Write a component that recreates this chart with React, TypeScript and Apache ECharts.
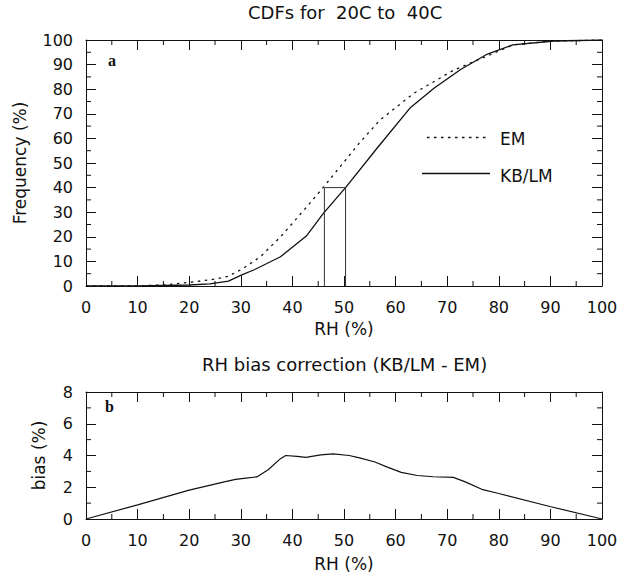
import React, { useEffect, useRef } from "react";
import * as echarts from "echarts";

// RH (%) and cumulative frequency (%) pairs
const emRH = [0, 10, 15, 20.2, 25, 27.6, 30.2, 33.8, 37.7, 42.8, 46.1, 50.3, 53.2, 57, 63.5, 71.3, 77.8, 82.7, 90, 100];
const emFreq = [0, 0.1, 0.4, 1.5, 2.8, 4, 6.8, 11.9, 20, 32.2, 40.4, 51.2, 58.7, 67.5, 78.3, 87.8, 93.5, 98, 99.5, 100];

const kbRH = [0, 10, 20, 24, 27.6, 30.2, 32.5, 37.7, 42.7, 46, 50.3, 56.4, 62.9, 67.5, 72.6, 77.8, 82.7, 90.7, 100];
const kbFreq = [0, 0, 0.4, 0.9, 2.0, 4.5, 6.5, 11.9, 20.3, 29.5, 40, 56, 72.6, 80.5, 88, 94.3, 98, 99.6, 100];

// mapping box at frequency 40 (EM RH -> KB/LM RH)
const boxRH = [46.2, 46.2, 50.3, 50.3];
const boxFreq = [0, 40, 40, 0];

// bias correction (KB/LM - EM)
const biasRH = [0, 10, 20, 27, 29, 31, 33.1, 35.3, 37.7, 38.7, 40.9, 42.6, 45.5, 47.9, 51, 53, 56, 58.4, 61.1, 64.2, 67.3, 71.2, 73.5, 76.7, 79.8, 89.9, 100];
const biasVal = [0, 0.89, 1.82, 2.35, 2.5, 2.58, 2.65, 3.1, 3.8, 4.0, 3.94, 3.88, 4.04, 4.1, 4.0, 3.85, 3.59, 3.27, 2.94, 2.74, 2.66, 2.62, 2.34, 1.87, 1.62, 0.79, 0];

// minor tick values
const minorRH = [5, 15, 25, 35, 45, 55, 65, 75, 85, 95];
const minorFreq = [5, 15, 25, 35, 45, 55, 65, 75, 85, 95];
const minorBias = [1, 3, 5, 7];

const titles = ["CDFs for  20C to  40C", "RH bias correction (KB/LM - EM)"];
const legendNames = ["EM", "KB/LM"];

const FONT = "DejaVu Sans";
const INK = "#111";
const DOTS = [2.5, 4.5];
const MINOR_LEN = 5;

const zip = (a: number[], b: number[]) => a.map((v, i) => [v, b[i]]);

function axis(gridIndex: number, position: string, min: number, max: number, interval: number, labels: boolean, extra: any = {}) {
  return {
    type: "value",
    gridIndex,
    position,
    min,
    max,
    interval,
    axisLine: { show: true, onZero: false, lineStyle: { color: INK, width: 1 } },
    axisTick: { show: true, inside: true, length: 10, lineStyle: { color: INK, width: 1 } },
    splitLine: { show: false },
    axisLabel: { show: labels, margin: 13, fontSize: 16, color: INK, fontFamily: FONT },
    nameTextStyle: { fontSize: 17, color: INK, fontFamily: FONT },
    ...extra,
  };
}

// custom series drawing minor ticks on both opposite sides of a grid
function minorTicks(gridAxis: number, dir: "x" | "y", values: number[], lo: number, hi: number) {
  return {
    type: "custom",
    xAxisIndex: gridAxis,
    yAxisIndex: gridAxis,
    silent: true,
    clip: false,
    data: values.map((v) => (dir === "x" ? [v, lo, hi] : [lo, v, hi])),
    renderItem: (_p: any, api: any) => {
      const style = { stroke: INK, lineWidth: 1 };
      if (dir === "x") {
        const v = api.value(0);
        const a = api.coord([v, lo]);
        const b = api.coord([v, hi]);
        return {
          type: "group",
          children: [
            { type: "line", shape: { x1: a[0], y1: a[1], x2: a[0], y2: a[1] - MINOR_LEN }, style },
            { type: "line", shape: { x1: b[0], y1: b[1], x2: b[0], y2: b[1] + MINOR_LEN }, style },
          ],
        };
      }
      const v = api.value(1);
      const a = api.coord([lo, v]);
      const b = api.coord([hi, v]);
      return {
        type: "group",
        children: [
          { type: "line", shape: { x1: a[0], y1: a[1], x2: a[0] + MINOR_LEN, y2: a[1] }, style },
          { type: "line", shape: { x1: b[0], y1: b[1], x2: b[0] - MINOR_LEN, y2: b[1] }, style },
        ],
      };
    },
  };
}

export default function App() {
  const ref = useRef<HTMLDivElement>(null);
  useEffect(() => {
    if (!ref.current) return;
    const chart = echarts.init(ref.current, undefined, { renderer: "svg" });
    const titleStyle = { fontSize: 18, fontWeight: "normal", color: INK, fontFamily: FONT };
    chart.setOption({
      animation: false,
      backgroundColor: "#fff",
      title: [
        { text: titles[0], left: 248, top: 3, padding: 0, textStyle: titleStyle },
        { text: titles[1], left: 202, top: 355, padding: 0, textStyle: titleStyle },
      ],
      grid: [
        { left: 86, right: 27, top: 40, height: 246 },
        { left: 86, right: 27, top: 392, height: 127 },
      ],
      xAxis: [
        axis(0, "bottom", 0, 100, 10, true, { name: "RH (%)", nameLocation: "middle", nameGap: 34 }),
        axis(0, "top", 0, 100, 10, false),
        axis(1, "bottom", 0, 100, 10, true, { name: "RH (%)", nameLocation: "middle", nameGap: 36 }),
        axis(1, "top", 0, 100, 10, false),
      ],
      yAxis: [
        axis(0, "left", 0, 100, 10, true, { name: "Frequency (%)", nameLocation: "middle", nameGap: 58 }),
        axis(0, "right", 0, 100, 10, false),
        axis(1, "left", 0, 8, 2, true, { name: "bias (%)", nameLocation: "middle", nameGap: 39 }),
        axis(1, "right", 0, 8, 2, false),
      ],
      graphic: [
        { type: "text", left: 108, top: 52, style: { text: "a", font: "bold 16px 'Liberation Serif'", fill: INK } },
        { type: "text", left: 105, top: 398, style: { text: "b", font: "bold 16px 'Liberation Serif'", fill: INK } },
        { type: "line", shape: { x1: 427, y1: 137.5, x2: 489, y2: 137.5 }, style: { stroke: INK, lineWidth: 1.3, lineDash: DOTS } },
        { type: "text", x: 500, y: 139, style: { text: legendNames[0], font: `17px '${FONT}'`, fill: INK, textVerticalAlign: "middle" } },
        { type: "line", shape: { x1: 422, y1: 173.5, x2: 490, y2: 173.5 }, style: { stroke: INK, lineWidth: 1.3 } },
        { type: "text", x: 500, y: 176, style: { text: legendNames[1], font: `17px '${FONT}'`, fill: INK, textVerticalAlign: "middle" } },
      ],
      series: [
        {
          name: legendNames[0],
          type: "line",
          xAxisIndex: 0,
          yAxisIndex: 0,
          data: zip(emRH, emFreq),
          symbol: "none",
          lineStyle: { color: INK, width: 1.3, type: DOTS },
        },
        {
          name: legendNames[1],
          type: "line",
          xAxisIndex: 0,
          yAxisIndex: 0,
          data: zip(kbRH, kbFreq),
          symbol: "none",
          lineStyle: { color: INK, width: 1.3, type: "solid" },
        },
        {
          name: "box",
          type: "line",
          xAxisIndex: 0,
          yAxisIndex: 0,
          data: zip(boxRH, boxFreq),
          symbol: "none",
          lineStyle: { color: "#333", width: 1 },
        },
        {
          name: "bias",
          type: "line",
          xAxisIndex: 2,
          yAxisIndex: 2,
          data: zip(biasRH, biasVal),
          symbol: "none",
          lineStyle: { color: INK, width: 1.2 },
        },
        minorTicks(0, "x", minorRH, 0, 100),
        minorTicks(0, "y", minorFreq, 0, 100),
        minorTicks(2, "x", minorRH, 0, 8),
        minorTicks(2, "y", minorBias, 0, 100),
      ],
    });
    return () => chart.dispose();
  }, []);
  return <div ref={ref} style={{ width: 629, height: 578, position: "absolute", left: 0, top: 0 }} />;
}
